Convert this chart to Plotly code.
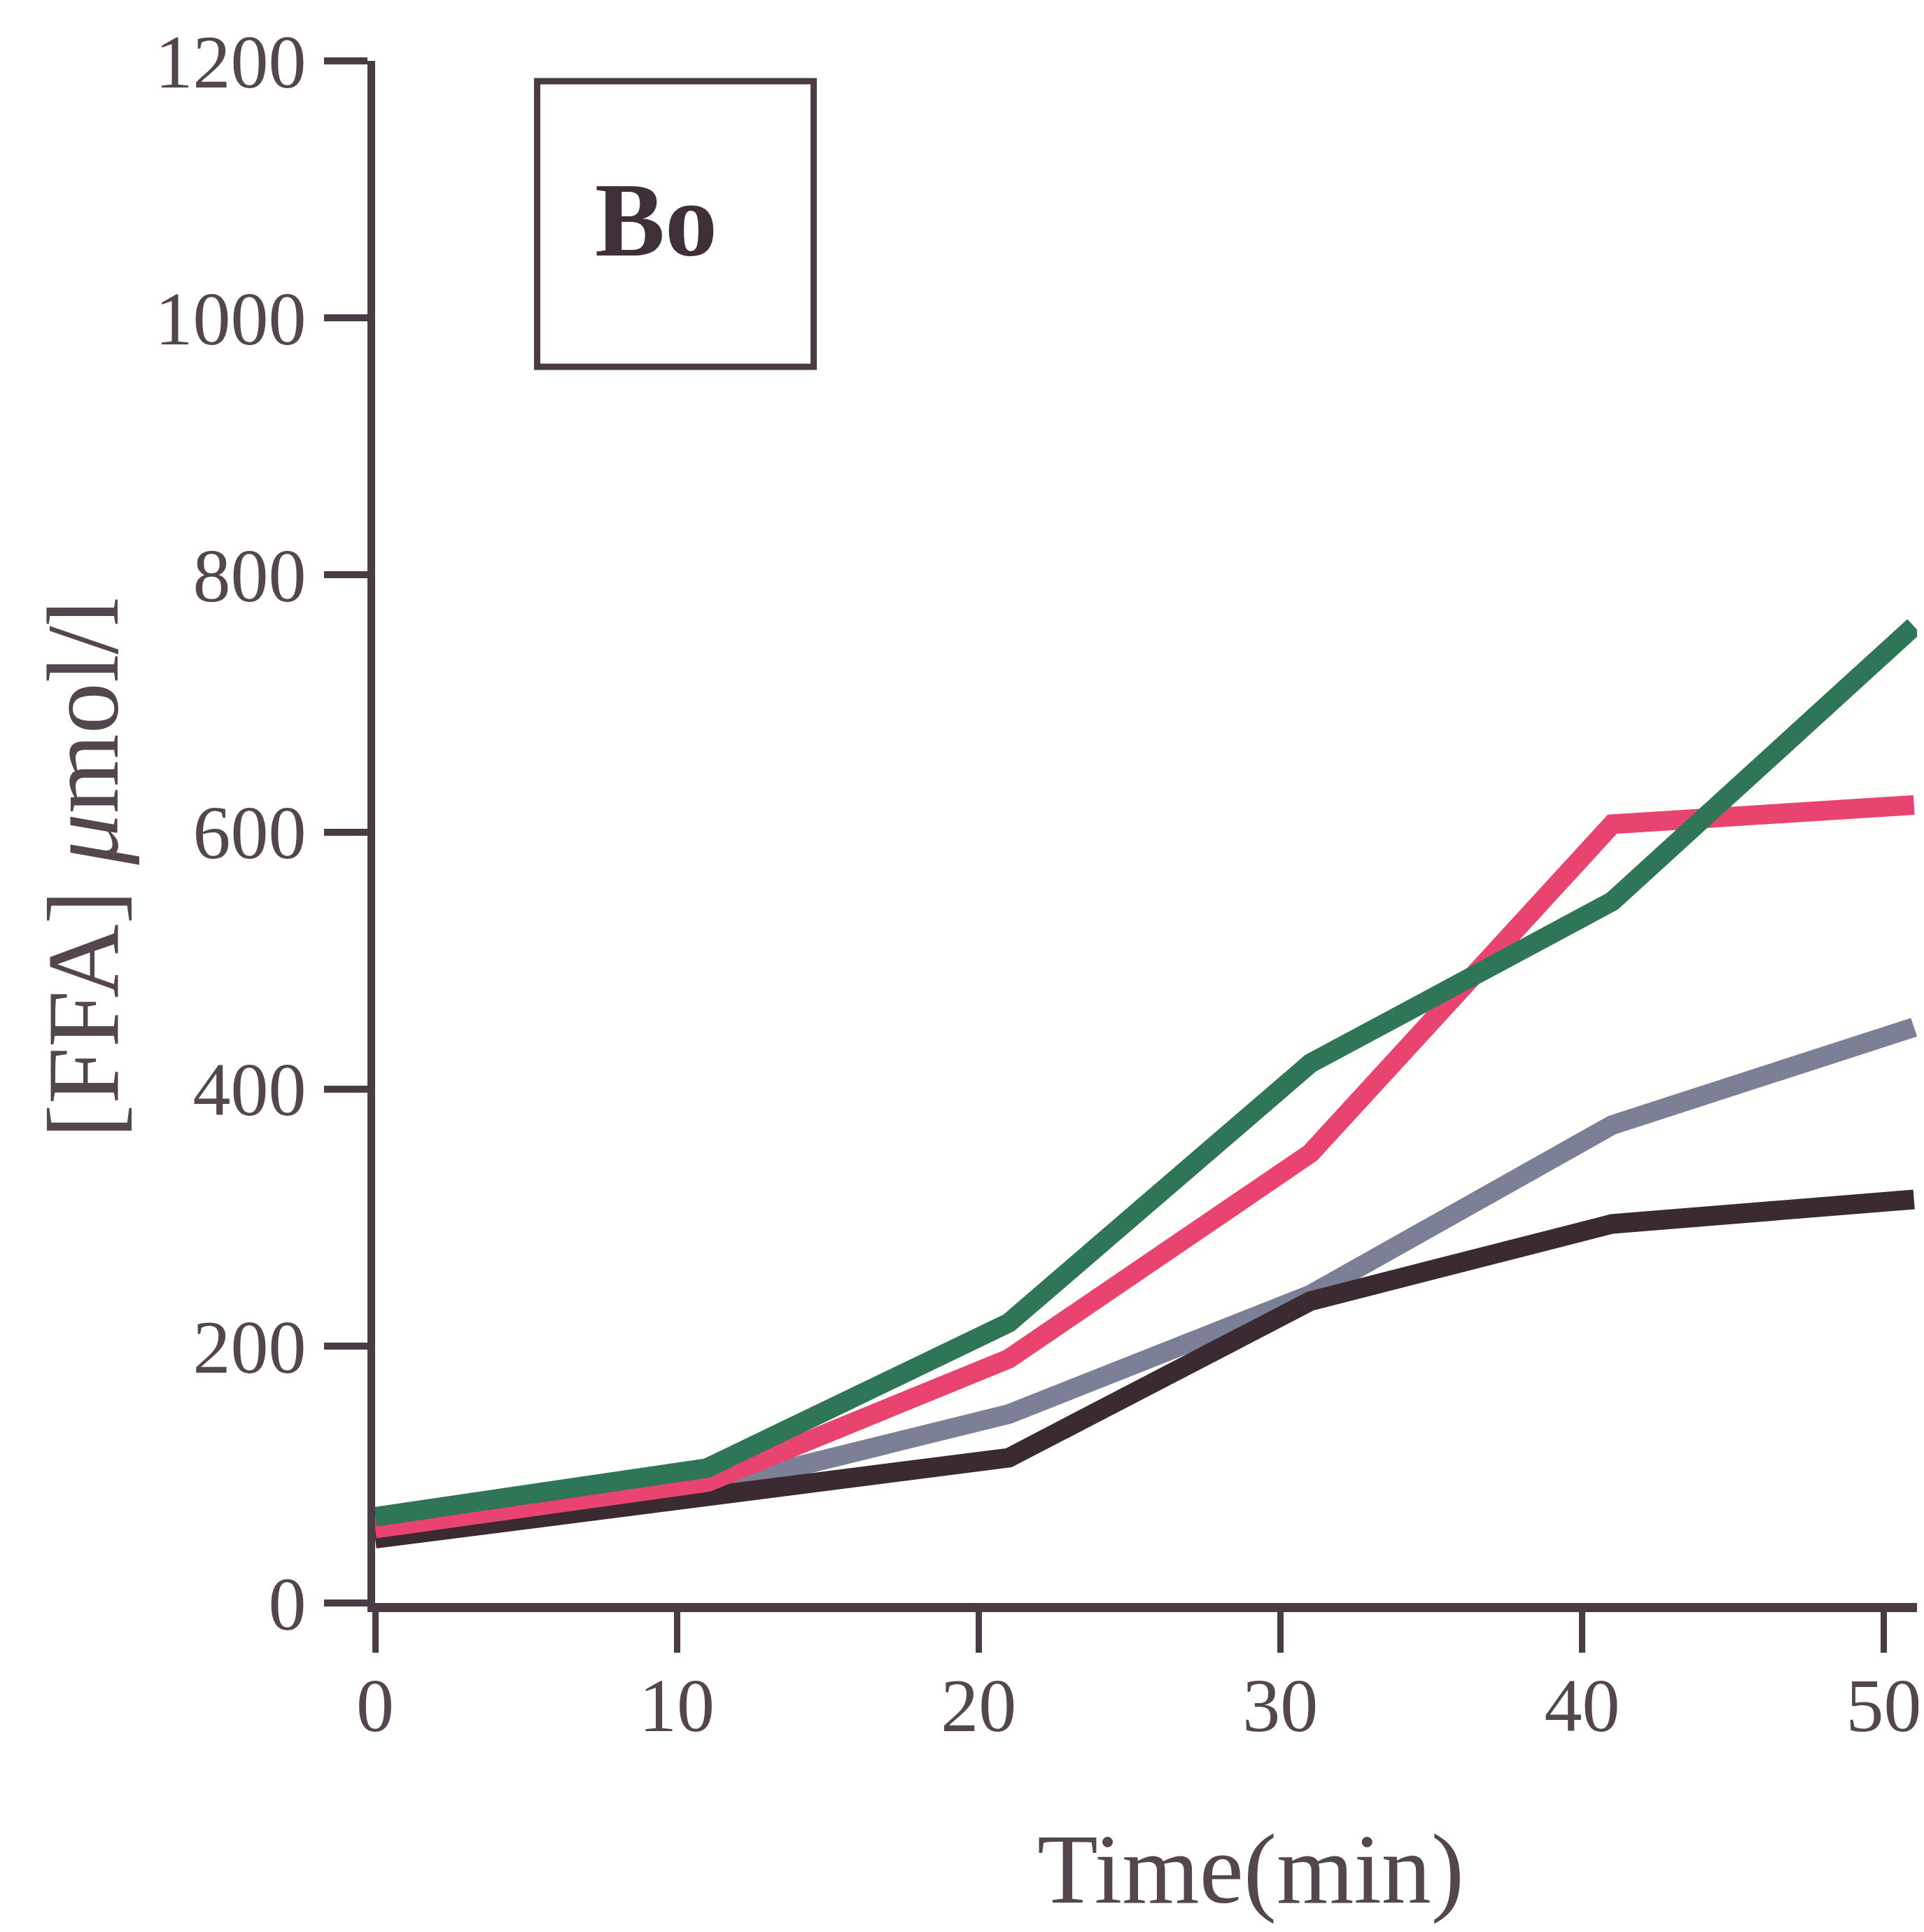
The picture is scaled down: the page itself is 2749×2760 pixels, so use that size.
import plotly.graph_objects as go

# ---- data ----
time_min = [0, 11, 21, 31, 41, 51]
green_vals = [67, 105, 218, 420, 546, 760]
red_vals = [58, 94, 190, 350, 606, 621]
blue_vals = [55, 89, 147, 240, 372, 448]
black_vals = [50, 84, 113, 235, 295, 314]
x_ticks = [0, 10, 20, 30, 40, 50]
y_ticks = [0, 200, 400, 600, 800, 1000, 1200]

W, H = 2749, 2760
L, R, T, B = 528, 13, 79, 478
PW = W - L - R
PH = H - T - B

def px(x):
    return (x - L) / PW

def py(y):
    return (H - B - y) / PH

AX = "#4a3b45"
TXT = "#54464f"
FONT = "Liberation Serif"

fig = go.Figure()
series = [
    (blue_vals, "#7b8096"),
    (black_vals, "#3b2a31"),
    (red_vals, "#e8446f"),
    (green_vals, "#2f7656"),
]
for vals, col in series:
    fig.add_trace(go.Scatter(x=time_min, y=vals, mode="lines",
                             line=dict(color=col, width=28),
                             showlegend=False, hoverinfo="skip"))

fig.update_layout(
    width=W, height=H,
    margin=dict(l=L, r=R, t=T, b=B),
    paper_bgcolor="#fffffd", plot_bgcolor="#fffffd",
    showlegend=False,
    xaxis=dict(range=[0, 51.1], tickvals=x_ticks, ticktext=[str(v) for v in x_ticks],
               showgrid=False, zeroline=False, showline=True, linecolor=AX, linewidth=13,
               ticks="outside", ticklen=58, tickwidth=9, tickcolor=AX,
               tickfont=dict(family=FONT, size=108, color=TXT), ticklabelstandoff=-18),
    yaxis=dict(range=[0, 1200], tickvals=y_ticks, ticktext=[str(v) for v in y_ticks],
               showgrid=False, zeroline=False, showline=True, linecolor=AX, linewidth=11,
               ticks="outside", ticklen=62, tickwidth=10, tickcolor=AX,
               tickfont=dict(family=FONT, size=108, color=TXT), ticklabelstandoff=4),
    font=dict(family=FONT, color=TXT),
)

# y-axis title
fig.add_annotation(text="[FFA] <i>μ</i>mol/l", xref="paper", yref="paper",
                   x=px(110), y=py(1232), textangle=-90, showarrow=False,
                   xanchor="center", yanchor="middle",
                   font=dict(family=FONT, size=146, color=TXT))
# x-axis title
fig.add_annotation(text="Time(min)", xref="paper", yref="paper",
                   x=px(1782), y=py(2662), showarrow=False,
                   xanchor="center", yanchor="middle",
                   font=dict(family=FONT, size=142, color=TXT))
# Bo box
fig.add_shape(type="rect", xref="paper", yref="paper",
              x0=px(760), x1=px(1156), y0=py(516), y1=py(108),
              line=dict(color=AX, width=9), fillcolor="rgba(0,0,0,0)")
fig.add_annotation(text="<b>Bo</b>", xref="paper", yref="paper",
                   x=px(930), y=py(306), showarrow=False,
                   xanchor="center", yanchor="middle",
                   font=dict(family=FONT, size=150, color="#3e2f38"))

fig.write_html("out.html")
